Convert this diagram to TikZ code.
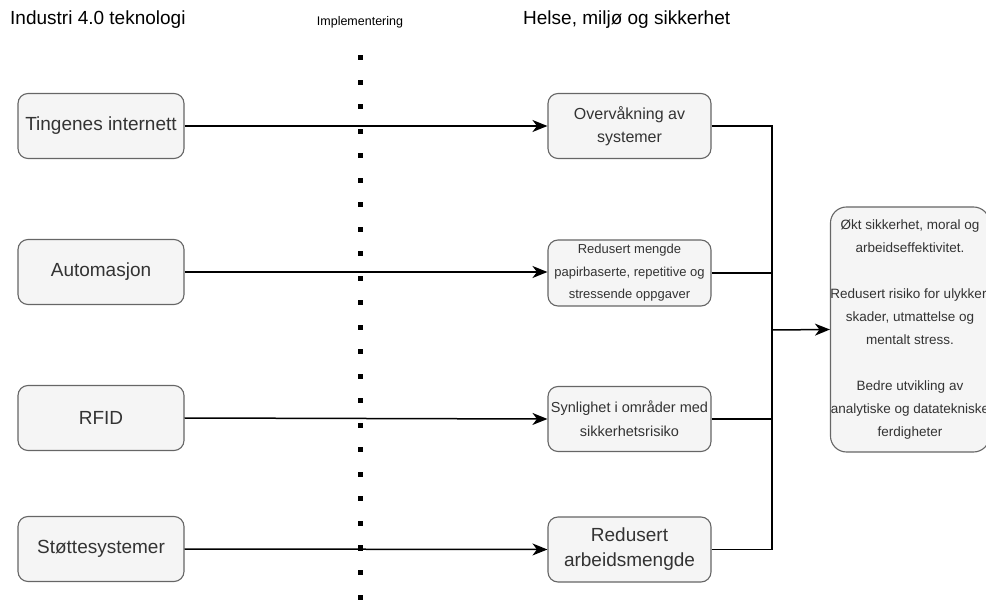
\documentclass[tikz,border=0pt]{standalone}
\usepackage{fontspec}
\setmainfont{Liberation Sans}
\usetikzlibrary{arrows.meta}
\definecolor{boxfill}{HTML}{F5F5F5}
\definecolor{boxline}{HTML}{666666}
\definecolor{boxtext}{HTML}{333333}
\tikzset{
  card/.style={draw=boxline, fill=boxfill, line width=1.1pt, rounded corners=10pt,
    text=boxtext, align=center, inner sep=0pt},
  srcbox/.style={card, minimum width=166pt, minimum height=65pt,
    font=\fontsize{19}{24}\selectfont},
  midbox/.style={card, minimum width=163pt, minimum height=65pt},
  header/.style={font=\fontsize{19}{22}\selectfont, inner sep=0pt},
  link/.style={line width=1.5pt, -{Stealth[length=15pt,width=12pt,inset=4.5pt]}},
  wire/.style={line width=1.5pt},
  dotmark/.style={fill=black, draw=none, minimum size=5pt, inner sep=0pt}
}
\begin{document}
\begin{tikzpicture}[x=1pt, y=-1pt]
\useasboundingbox (0,0) rectangle (986,601);

% column headings
\node[header, anchor=west] (h1) at (10,20) {Industri 4.0 teknologi};
\node[font=\fontsize{12.5}{14}\selectfont, inner sep=0pt] (h2) at (360,22) {Implementering};
\node[header, anchor=west] (h3) at (523,20) {Helse, miljø og sikkerhet};

% technologies
\node[srcbox] (iot)  at (101,126) {Tingenes internett};
\node[srcbox] (auto) at (101,272) {Automasjon};
\node[srcbox] (rfid) at (101,418) {RFID};
\node[srcbox] (supp) at (101,549) {Støttesystemer};

% HSE effects
\node[midbox, font=\fontsize{16}{23}\selectfont] (mon) at (629.5,126)
  {Overvåkning av\\systemer};
\node[midbox, minimum height=66pt, font=\fontsize{13}{22.5}\selectfont] (pap) at (629.5,273)
  {Redusert mengde\\papirbaserte, repetitive og\\stressende oppgaver};
\node[midbox, font=\fontsize{14.5}{24}\selectfont] (vis) at (629.5,419)
  {Synlighet i områder med\\sikkerhetsrisiko};
\node[midbox, font=\fontsize{19}{25}\selectfont] (work) at (629.5,549.5)
  {Redusert\\arbeidsmengde};

% outcome
\node[card, minimum width=154pt, minimum height=245pt, rounded corners=16pt,
      font=\fontsize{13.5}{23}\selectfont] (out) at (910,329.5)
  {Økt sikkerhet, moral og\\arbeidseffektivitet.\\[23pt]Redusert risiko for ulykker,\\skader, utmattelse og\\mentalt stress.\\[23pt]Bedre utvikling av\\analytiske og datatekniske\\ferdigheter};

% connectors
\draw[link] (iot.east)  -- (mon.west);
\draw[link] (auto.east) -- (auto.east -| pap.west);
\draw[link] (rfid.east) -- (vis.west);
\draw[link] (supp.east) -- (work.west);

\coordinate (bus) at (772,330);
\draw[wire] (mon.east)  -| (bus);
\draw[wire] (pap.east -| mon.east) -| (bus);
\draw[wire] (vis.east)  -| (bus);
\draw[wire] (work.east) -| (bus);
\draw[link] (bus) -- (out.west);

% dotted divider
\foreach \i in {0,...,22}
  \node[dotmark] (dot\i) at (360,58+24.5*\i) {};
\end{tikzpicture}
\end{document}
